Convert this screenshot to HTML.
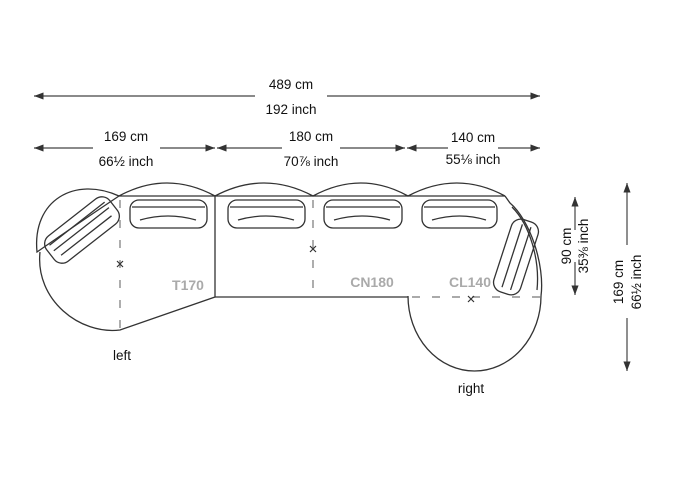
<!DOCTYPE html>
<html><head><style>body{margin:0;background:#fff}svg{display:block}text{font-family:"Liberation Sans",Arial,sans-serif}</style></head><body>
<svg width="682" height="500" viewBox="0 0 682 500" xmlns="http://www.w3.org/2000/svg">
<defs><marker id="a" markerWidth="8" markerHeight="6" refX="8" refY="3" orient="auto-start-reverse"><path d="M0,0L8,3L0,6z" fill="#333"/></marker></defs>
<g stroke="#444" stroke-width="1.2" fill="none">
<line x1="34" y1="96" x2="255" y2="96" marker-start="url(#a)"/><line x1="327" y1="96" x2="540" y2="96" marker-end="url(#a)"/>
<line x1="34" y1="148" x2="93" y2="148" marker-start="url(#a)"/><line x1="160" y1="148" x2="215" y2="148" marker-end="url(#a)"/>
<line x1="217" y1="148" x2="282" y2="148" marker-start="url(#a)"/><line x1="340" y1="148" x2="405" y2="148" marker-end="url(#a)"/>
<line x1="407" y1="148" x2="448" y2="148" marker-start="url(#a)"/><line x1="498" y1="148" x2="540" y2="148" marker-end="url(#a)"/>
<line x1="575" y1="197" x2="575" y2="230" marker-start="url(#a)"/><line x1="575" y1="262" x2="575" y2="295" marker-end="url(#a)"/>
<line x1="627" y1="183" x2="627" y2="245" marker-start="url(#a)"/><line x1="627" y1="318" x2="627" y2="371" marker-end="url(#a)"/>
</g>
<g font-size="13.5" fill="#111" text-anchor="middle">
<text x="291" y="89">489 cm</text><text x="291" y="114">192 inch</text>
<text x="126" y="141">169 cm</text><text x="126" y="166">66½ inch</text>
<text x="311" y="141">180 cm</text><text x="311" y="166">70⅞ inch</text>
<text x="473" y="142">140 cm</text><text x="473" y="164">55⅛ inch</text>
<text transform="translate(571,246) rotate(-90)">90 cm</text>
<text transform="translate(588,246) rotate(-90)">35⅜ inch</text>
<text transform="translate(623,282) rotate(-90)">169 cm</text>
<text transform="translate(641,282) rotate(-90)">66½ inch</text>
<text x="122" y="360">left</text><text x="471" y="393">right</text>
</g>
<g font-size="14" font-weight="bold" fill="#aaa" text-anchor="middle">
<text x="188" y="290">T170</text><text x="372" y="287">CN180</text><text x="470" y="287">CL140</text>
</g>
<g stroke="#333" stroke-width="1.3" fill="none">
<path d="M119,196 Q167,170 215,196 Q264,170 313,196 Q361,170 408,196 Q457,170 505,196"/>
<line x1="119" y1="196" x2="505" y2="196"/>
<path d="M119,196 C75,176 32,200 37,252 C60,236 92,214 119,196"/>
<path d="M40,252 C35,300 80,335 120,330 L215,297 L215,196"/>
<line x1="215" y1="297" x2="408" y2="297"/>
<path d="M408,296 A66.5,75 0 0 0 541,296"/>
<path d="M505,196 L510,203 C530,220 545,265 541,296"/>
<g transform="translate(82,230) rotate(-38)"><rect x="-40" y="-16" width="80" height="32" rx="10"/><line x1="-35" y1="-8" x2="35" y2="-8"/><line x1="-35" y1="-1" x2="35" y2="-1"/><line x1="-32" y1="7" x2="32" y2="7"/></g>
<g transform="translate(516,257) rotate(-72)"><rect x="-38" y="-14" width="76" height="28" rx="10"/><line x1="-33" y1="-4" x2="33" y2="-4"/><line x1="-33" y1="5" x2="33" y2="5"/></g>
<path d="M512,207 C530,225 540,260 537,290"/>
<rect x="130" y="200" width="77" height="28" rx="9"/><line x1="132" y1="207" x2="205" y2="207"/><path d="M140,220 Q168,212 196,220"/>
<rect x="228" y="200" width="77" height="28" rx="9"/><line x1="230" y1="207" x2="303" y2="207"/><path d="M238,220 Q266,212 294,220"/>
<rect x="324" y="200" width="78" height="28" rx="9"/><line x1="326" y1="207" x2="400" y2="207"/><path d="M334,220 Q362,212 390,220"/>
<rect x="422" y="200" width="75" height="28" rx="9"/><line x1="424" y1="207" x2="495" y2="207"/><path d="M432,220 Q460,212 486,220"/>
</g>
<g stroke="#777" stroke-width="1.2" stroke-dasharray="8,12" fill="none">
<line x1="120" y1="200" x2="120" y2="330"/><line x1="313" y1="200" x2="313" y2="297"/><line x1="412" y1="297" x2="540" y2="297"/>
</g>
<g stroke="#333" stroke-width="1.2">
<path d="M117,261l6,6M123,261l-6,6"/><path d="M310,246l6,6M316,246l-6,6"/><path d="M468,296l6,6M474,296l-6,6"/>
</g>
</svg>
</body></html>
